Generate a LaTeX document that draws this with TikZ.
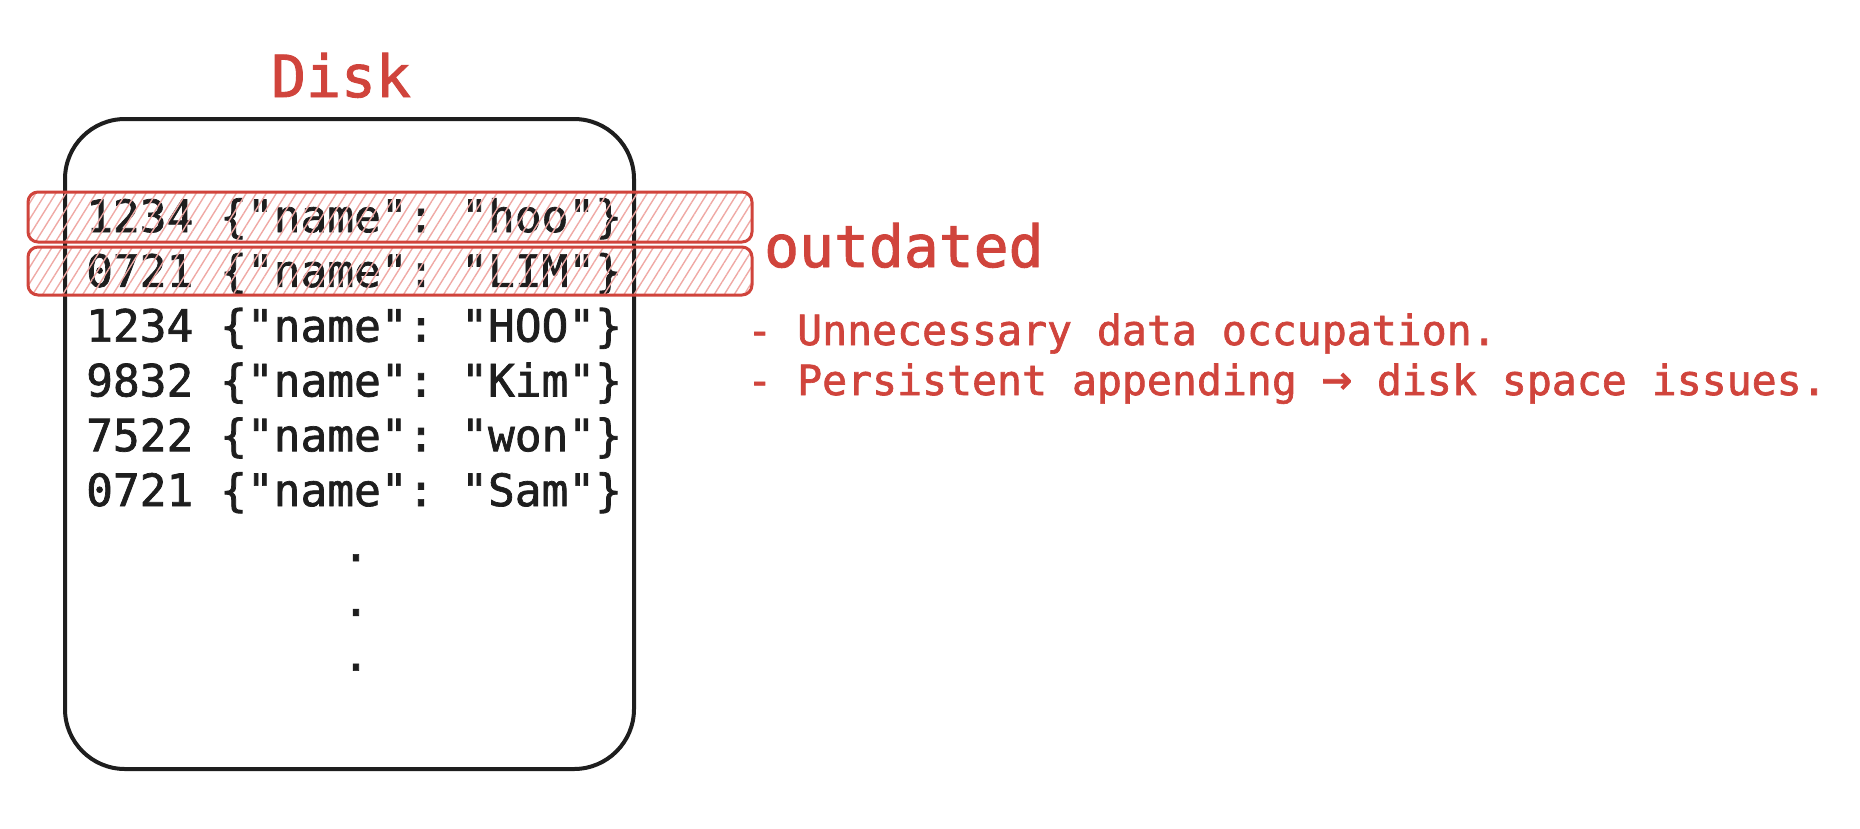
\documentclass[tikz,border=0pt]{standalone}
\usepackage{fontspec}
\setmonofont[FakeBold=1.6]{DejaVu Sans Mono}
\usetikzlibrary{patterns.meta,positioning}
\definecolor{diskred}{HTML}{D0443C}
\definecolor{hatchred}{HTML}{EFA9A5}
\definecolor{ink}{HTML}{1E1E1E}
\def \px {1pt}

\begin{document}
\begin{tikzpicture}[x=\px,y=-\px,
    rec/.style={anchor=base west,inner sep=0pt,text=ink,font=\ttfamily\fontsize{44.5}{44.5}\selectfont},
    note/.style={anchor=base west,inner sep=0pt,text=diskred,font=\ttfamily\fontsize{41.5}{41.5}\selectfont},
    head/.style={anchor=base west,inner sep=0pt,text=diskred,font=\ttfamily\fontsize{58}{58}\selectfont},
    stale/.style={draw=diskred,line width=3pt,rounded corners=10pt,
      pattern={Lines[angle=58,distance=8.5pt,line width=1.4pt]},pattern color=hatchred}]
    \useasboundingbox (0,0) rectangle (1860,828);
    % disk
    \node[head] (title) at (271,97) {Disk};
    \draw[ink,line width=4pt,rounded corners=60pt] (65,119) rectangle (634,769);
    % records
    \foreach \i/\k/\v in {1/1234/hoo,2/0721/LIM,3/1234/HOO,4/9832/Kim,5/7522/won,6/0721/Sam}
      \node[rec] (row\i) at (86,{232+54.8*(\i-1)}) {\k\ \{"name":\ "\v"\}};
    \foreach \i in {1,2,3}
      \node[rec,anchor=base] (dot\i) at (356,{561+54.8*(\i-1)}) {.};
    % outdated records
    \draw[stale] (28,192) rectangle (752,242);
    \draw[stale] (28,247) rectangle (752,295);
    \node[head] (old) at (764,267) {outdated};
    \node[note] (why1) at (747,345) {- Unnecessary data occupation.};
    \node[note] (why2) at (747,395) {- Persistent appending {\fontsize{50}{50}\selectfont→} disk space issues.};
  \end{tikzpicture}
\end{document}
